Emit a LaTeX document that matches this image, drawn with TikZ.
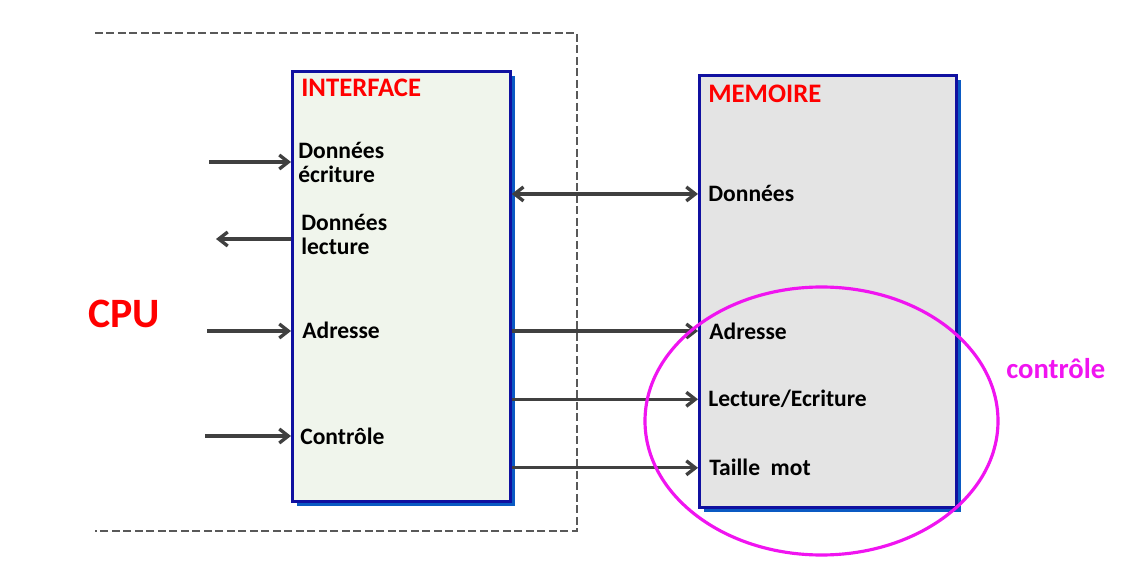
\documentclass[tikz,border=0pt]{standalone}
\usepackage{fontspec}
\setmainfont{Carlito}
\usetikzlibrary{arrows.meta,shadows}
\definecolor{boxblue}{RGB}{16,16,160}
\definecolor{shadeblue}{RGB}{10,90,195}
\definecolor{ifacefill}{RGB}{240,245,236}
\definecolor{memfill}{RGB}{228,228,228}
\definecolor{arrowgray}{RGB}{64,64,64}
\definecolor{ctrlpink}{RGB}{240,20,240}

\begin{document}
\begin{tikzpicture}
    \tikzset{x={(0.02cm, 0cm)}, y={(0cm, -0.02cm)}}
    \tikzset{
        blockbox/.style={draw=boxblue, line width=1.6pt, inner sep=0pt, anchor=north west,
            general shadow={fill=shadeblue, shadow xshift=0.1cm, shadow yshift=-0.1cm}},
        boxtitle/.style={anchor=base west, inner sep=0pt, text=red,
            font=\fontsize{15.2}{18}\selectfont\bfseries},
        sig/.style={anchor=base west, inner sep=0pt, align=left,
            font=\fontsize{13.4}{13.66}\selectfont\bfseries},
        barb/.tip={Straight Barb[length=0.18cm, width=0.28cm]},
        link/.style={draw=arrowgray, line width=1.9pt, -barb},
        cpuframe/.style={draw=black!65, line width=0.6pt, dash pattern=on 0.16cm off 0.07cm},
    }
    \useasboundingbox (0,0) rectangle (1136,577);

    % CPU side
    \draw[cpuframe] (95,33) -- (577,33) -- (577,531) -- (95,531);
    \node[anchor=base west, inner sep=0pt, text=red, font=\fontsize{23.8}{28}\selectfont\bfseries]
        (cpu) at (88,328) {CPU};

    \node[blockbox, fill=ifacefill, minimum width=4.36cm, minimum height=8.6cm] (iface) at (291,70) {};
    \node[boxtitle] (ifaceTitle) at (301,97) {INTERFACE};
    \node[sig] (wrData) at (298,183) {Données\\écriture};
    \node[sig] (rdData) at (301,255) {Données\\lecture};
    \node[sig] (ifAdr) at (302,339) {Adresse};
    \node[sig] (ifCtl) at (300,444) {Contrôle};

    % memoire
    \node[blockbox, fill=memfill, minimum width=5.14cm, minimum height=8.64cm] (mem) at (698,74) {};
    \node[boxtitle] (memTitle) at (708,103) {MEMOIRE};
    \node[sig] (memData) at (708,202) {Données};
    \node[sig] (memAdr) at (709,340) {Adresse};
    \node[sig] (memRw) at (708,407) {Lecture/Ecriture};
    \node[sig] (memSize) at (709,476) {Taille\ \ mot};

    % free ends on the cpu side
    \coordinate (wrIn) at (209,162);
    \coordinate (rdOut) at (216,239);
    \coordinate (adrIn) at (207,331);
    \coordinate (ctlIn) at (205,436);

    \draw[link] (wrIn) -- (wrIn -| iface.west);
    \draw[link] (rdOut -| iface.west) -- (rdOut);
    \draw[link] (adrIn) -- (adrIn -| iface.west);
    \draw[link] (ctlIn) -- (ctlIn -| iface.west);

    % bus
    \draw[link, barb-barb] (memData.west -| iface.east) -- (memData.west -| mem.west);
    \draw[link] (adrIn -| iface.east) -- (adrIn -| mem.west);
    \draw[link] (memRw.west -| iface.east) -- (memRw.west -| mem.west);
    \draw[link] (memSize.west -| iface.east) -- (memSize.west -| mem.west);

    % controle
    \draw[ctrlpink, line width=1.8pt] (821.5,421) ellipse (176.5 and 134);
    \node[anchor=base west, inner sep=0pt, text=ctrlpink, font=\fontsize{16.3}{19}\selectfont\bfseries]
        (ctrlLabel) at (1006,378) {contrôle};
\end{tikzpicture}
\end{document}
